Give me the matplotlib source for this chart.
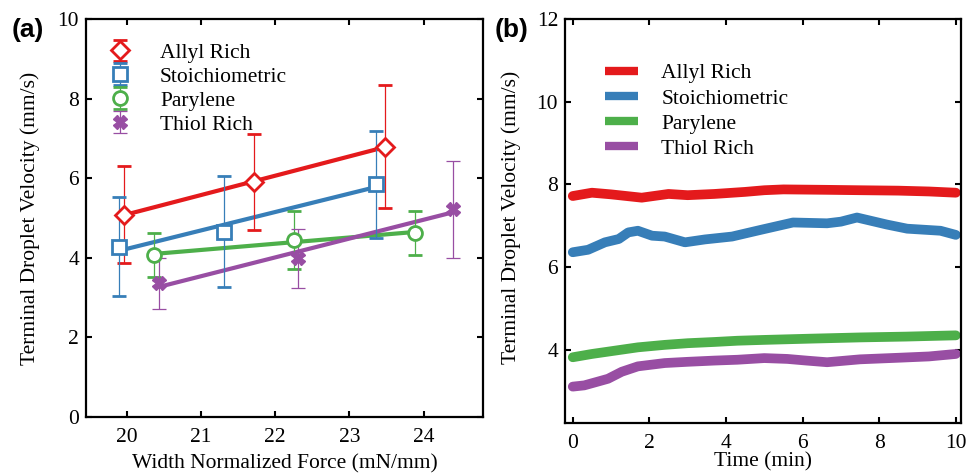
import numpy as np
import matplotlib
matplotlib.use("Agg")
import matplotlib.pyplot as plt

plt.rcParams['font.family'] = ['Liberation Serif', 'DejaVu Serif']
plt.rcParams['font.size'] = 15.5

# Panel (a): velocity vs width normalized force
names = ["Allyl Rich", "Stoichiometric", "Parylene", "Thiol Rich"]
colors = ["#e41a1c", "#377eb8", "#4daf4a", "#984ea3"]
markers = ["D", "s", "o", "X"]

allyl_force = [19.96, 21.72, 23.48]
allyl_vel = [5.08, 5.91, 6.79]
allyl_err = [1.22, 1.21, 1.54]

stoich_force = [19.90, 21.31, 23.36]
stoich_vel = [4.28, 4.66, 5.85]
stoich_err = [1.24, 1.40, 1.34]

parylene_force = [20.36, 22.25, 23.89]
parylene_vel = [4.07, 4.45, 4.62]
parylene_err = [0.55, 0.72, 0.55]

thiol_force = [20.44, 22.31, 24.39]
thiol_vel = [3.36, 3.99, 5.22]
thiol_err = [0.64, 0.74, 1.22]

forces = [allyl_force, stoich_force, parylene_force, thiol_force]
vels = [allyl_vel, stoich_vel, parylene_vel, thiol_vel]
errs = [allyl_err, stoich_err, parylene_err, thiol_err]

# Panel (b): velocity vs time
allyl_t = [0, 0.5, 1.0, 1.8, 2.5, 3.0, 3.7, 4.5, 5.0, 5.5, 6.6, 7.5, 8.5, 9.3, 10]
allyl_v = [7.72, 7.80, 7.76, 7.68, 7.77, 7.74, 7.77, 7.82, 7.86, 7.88, 7.87, 7.86, 7.85, 7.83, 7.80]

stoich_t = [0, 0.4, 0.84, 1.2, 1.45, 1.7, 2.07, 2.4, 2.93, 3.45, 4.16, 4.9, 5.75, 6.64, 7.0, 7.42, 8.2, 8.73, 9.6, 10]
stoich_v = [6.36, 6.42, 6.60, 6.68, 6.84, 6.88, 6.76, 6.74, 6.60, 6.67, 6.74, 6.90, 7.08, 7.06, 7.10, 7.20, 7.03, 6.93, 6.88, 6.78]

parylene_t = [0, 0.5, 1.1, 1.7, 2.4, 3.0, 3.7, 4.3, 5.0, 6.2, 7.5, 8.7, 10]
parylene_v = [3.82, 3.90, 3.98, 4.06, 4.12, 4.16, 4.19, 4.22, 4.24, 4.27, 4.30, 4.32, 4.35]

thiol_t = [0, 0.3, 0.65, 0.92, 1.28, 1.7, 2.4, 3.0, 3.7, 4.3, 5.0, 5.6, 6.1, 6.64, 7.5, 8.55, 9.3, 10]
thiol_v = [3.11, 3.14, 3.23, 3.30, 3.47, 3.60, 3.68, 3.71, 3.74, 3.76, 3.80, 3.78, 3.74, 3.70, 3.77, 3.81, 3.84, 3.90]

times = [allyl_t, stoich_t, parylene_t, thiol_t]
series = [allyl_v, stoich_v, parylene_v, thiol_v]

fig = plt.figure(figsize=(9.66, 4.73), dpi=100)
ax1 = fig.add_axes([0.089, 0.1184, 0.411, 0.8414])
ax2 = fig.add_axes([0.585, 0.1057, 0.410, 0.854])

for f, v, e, c, m, n in zip(forces, vels, errs, colors, markers, names):
    coef = np.polyfit(f, v, 1)
    xf = np.array([f[0], f[-1]])
    ax1.plot(xf, np.polyval(coef, xf), color=c, lw=3, zorder=2)
    ms = 9.5 if m == "D" else 10
    if m == "X":
        ax1.errorbar(f, v, yerr=e, fmt=m, color=c, ms=ms, mec=c, mfc=c,
                     elinewidth=0.9, capsize=4.7, capthick=0.9, label=n, zorder=3)
    else:
        ax1.errorbar(f, v, yerr=e, fmt=m, color=c, ms=ms, mec=c, mfc="white",
                     mew=2, elinewidth=0.9, capsize=4.7, capthick=0.9, label=n, zorder=3)

ax1.set_xlim(19.45, 24.8)
ax1.set_ylim(0, 10)
ax1.set_xticks([20, 21, 22, 23, 24])
ax1.set_yticks([0, 2, 4, 6, 8, 10])
ax1.set_xlabel("Width Normalized Force (mN/mm)", labelpad=5)
ax1.set_ylabel("Terminal Droplet Velocity (mm/s)")
ax1.yaxis.set_label_coords(-0.116, 0.5)
ax1.legend(loc="upper left", bbox_to_anchor=(0.04, 0.962), frameon=False,
           handlelength=0.9, handletextpad=1.4, labelspacing=0.18, borderaxespad=0)

for t, v, c, n in zip(times, series, colors, names):
    ax2.plot(t, v, color=c, lw=7, solid_capstyle="round", solid_joinstyle="round", label=n)

ax2.set_xlim(-0.2, 10.14)
ax2.set_ylim(2.23, 12)
ax2.set_xticks([0, 2, 4, 6, 8, 10])
ax2.set_yticks([4, 6, 8, 10, 12])
ax2.set_xlabel("Time (min)", labelpad=-0.5)
ax2.set_ylabel("Terminal Droplet Velocity (mm/s)")
ax2.yaxis.set_label_coords(-0.111, 0.51)
leg2 = ax2.legend(loc="upper left", bbox_to_anchor=(0.08, 0.912), frameon=False,
                  handlelength=1.5, handletextpad=1.1, labelspacing=0.24, borderaxespad=0)
for h in leg2.get_lines():
    h.set_linewidth(6)
    h.set_solid_capstyle("butt")

for ax in (ax1, ax2):
    ax.tick_params(direction="in", top=True, right=True, length=4.5, width=1.5, pad=8)
    ax.tick_params(axis="y", pad=5)
    for s in ax.spines.values():
        s.set_linewidth(1.6)

fig.text(0.012, 0.937, "(a)", fontsize=19, fontweight="bold",
         family=["Liberation Sans", "DejaVu Sans"], va="center")
fig.text(0.512, 0.937, "(b)", fontsize=19, fontweight="bold",
         family=["Liberation Sans", "DejaVu Sans"], va="center")

fig.savefig("out.png", dpi=100)
